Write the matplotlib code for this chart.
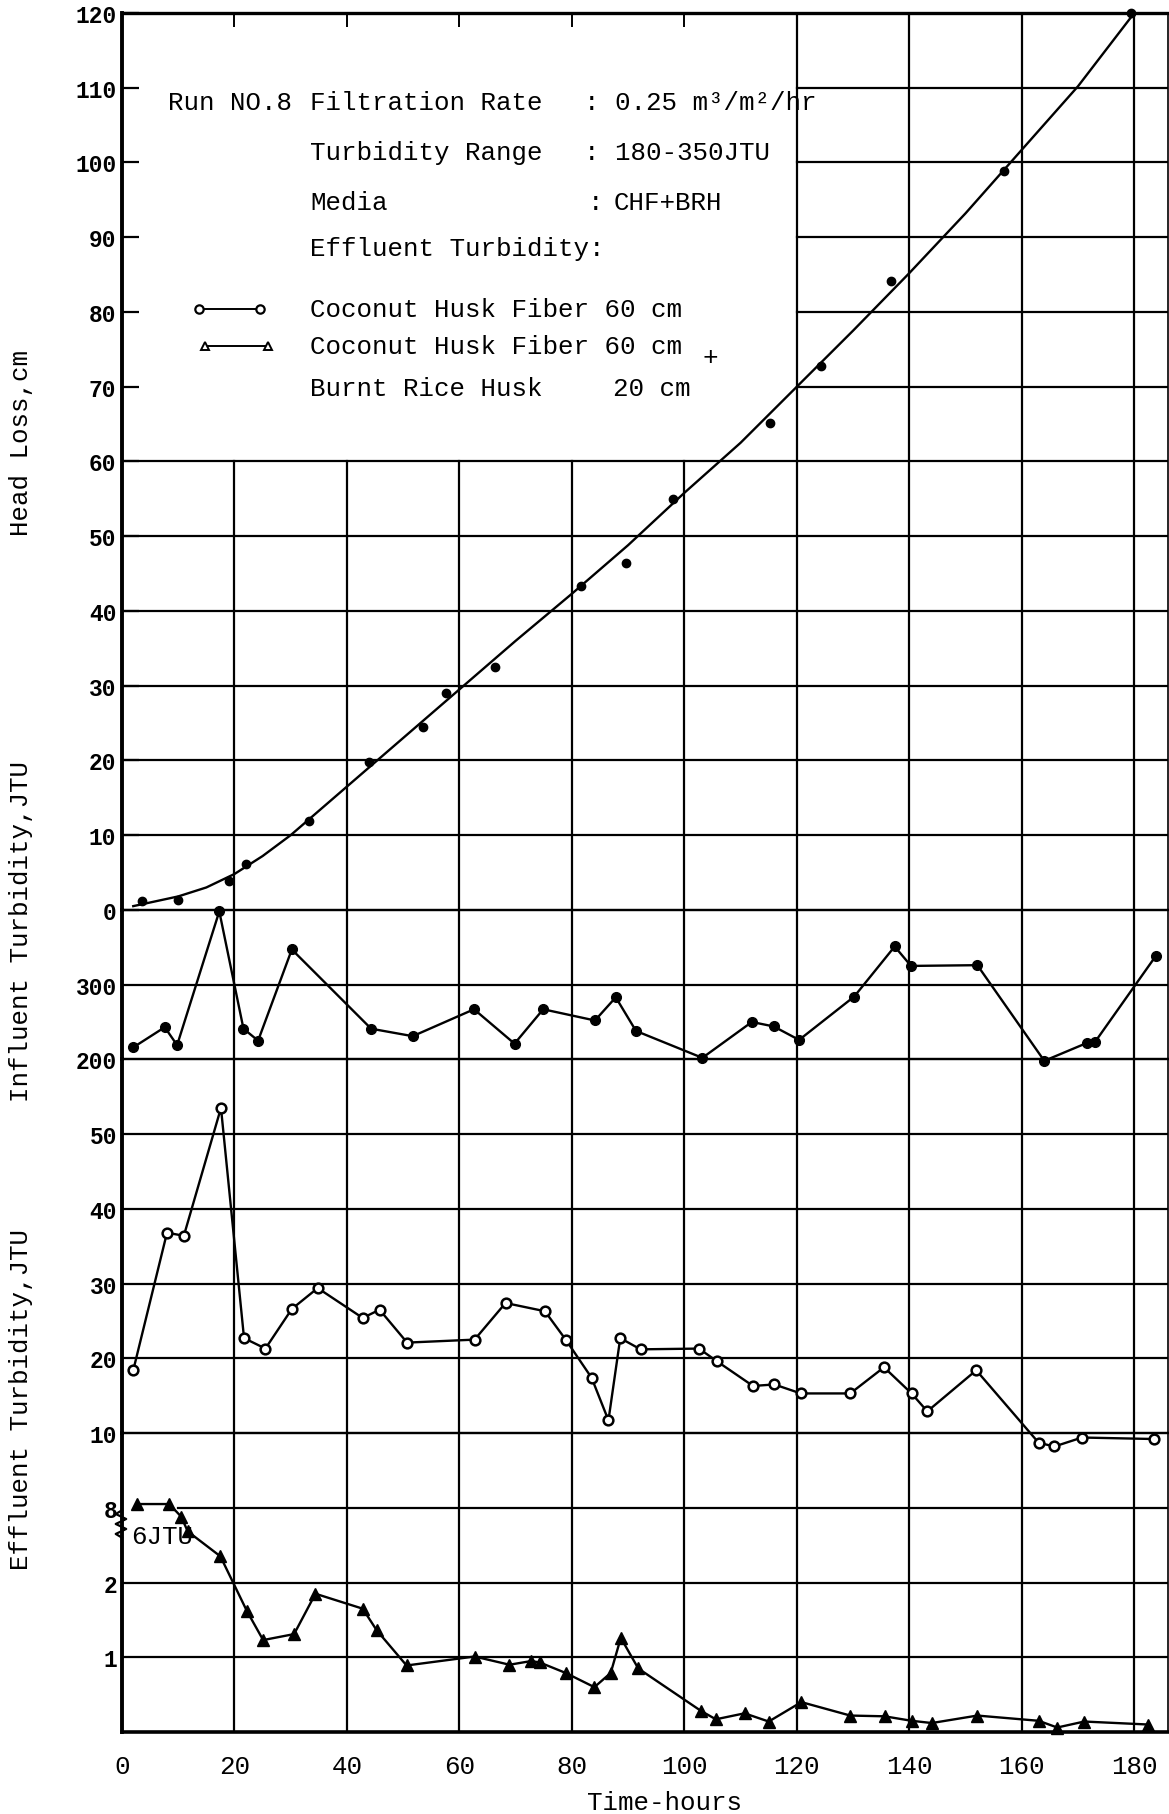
import numpy as np
import matplotlib
matplotlib.use("Agg")
import matplotlib.pyplot as plt
from matplotlib import transforms

# ---- data -------------------------------------------------------------
# head loss readings (hours, cm)
hl_hours = [3.5, 10.0, 19.0, 22.0, 33.3, 43.9, 53.5, 57.6, 66.4, 81.6, 89.7,
            98.0, 115.3, 124.3, 136.7, 156.9, 179.4]
hl_cm = [1.2, 1.3, 3.9, 6.2, 11.9, 19.8, 24.5, 29.0, 32.5, 43.3, 46.4,
         55.0, 65.2, 72.8, 84.2, 98.9, 120.0]
# hand-fitted head loss curve
curve_hours = [2, 10, 15, 20, 25, 30, 40, 50, 60, 70, 80, 90, 100, 110, 120,
               130, 140, 150, 160, 170, 180]
curve_cm = [0.5, 1.8, 3.0, 4.8, 7.2, 10.0, 16.5, 23.0, 29.5, 36.0, 42.3, 48.8,
            55.8, 62.5, 70.0, 77.5, 85.2, 93.2, 101.7, 110.2, 120.0]

# influent turbidity (JTU)
inf_hours = [2.0, 7.6, 9.8, 17.3, 21.6, 24.2, 30.2, 44.3, 51.7, 62.6, 69.8,
             74.9, 84.1, 87.8, 91.4, 103.2, 112.0, 115.9, 120.4, 130.2, 137.4,
             140.3, 152.1, 164.0, 171.6, 173.0, 183.8]
inf_jtu = [216, 243, 219, 398, 241, 225, 347, 241, 231, 267, 221, 267, 252,
           283, 238, 202, 250, 244, 226, 284, 351, 325, 326, 198, 222, 223, 338]

# effluent turbidity, coconut husk fiber 60 cm
chf_hours = [2.0, 8.0, 11.0, 17.6, 21.7, 25.5, 30.2, 34.8, 42.8, 45.8, 50.7,
             62.7, 68.2, 75.2, 78.9, 83.5, 86.5, 88.6, 92.2, 102.6, 105.8,
             112.2, 116.0, 120.7, 129.5, 135.5, 140.4, 143.2, 151.9, 163.0,
             165.8, 170.7, 183.5]
chf_jtu = [18.4, 36.8, 36.4, 53.5, 22.7, 21.3, 26.6, 29.4, 25.4, 26.5, 22.1,
           22.5, 27.4, 26.3, 22.5, 17.4, 11.7, 22.7, 21.2, 21.3, 19.6, 16.3,
           16.5, 15.3, 15.3, 18.8, 15.3, 12.9, 18.4, 8.7, 8.2, 9.4, 9.2]

# effluent turbidity, coconut husk fiber 60 cm + burnt rice husk 20 cm
brh_hours = [2.7, 8.4, 10.5, 11.7, 17.5, 22.2, 25.1, 30.6, 34.4, 42.8, 45.3,
             50.6, 62.7, 68.9, 72.8, 74.3, 78.9, 84.0, 86.9, 88.7, 91.8, 103.0,
             105.6, 110.7, 115.0, 120.8, 129.5, 135.6, 140.4, 144.0, 152.1,
             163.0, 166.3, 171.1, 182.5]
brh_jtu = [8.1, 8.1, 7.3, 6.1, 4.1, 1.62, 1.23, 1.31, 1.85, 1.65, 1.36, 0.89,
           1.01, 0.90, 0.95, 0.93, 0.79, 0.60, 0.79, 1.26, 0.85, 0.28, 0.17,
           0.25, 0.14, 0.40, 0.22, 0.21, 0.15, 0.12, 0.22, 0.15, 0.06, 0.14,
           0.10]

x_ticks = [0, 20, 40, 60, 80, 100, 120, 140, 160, 180]
hl_ticks = [0, 10, 20, 30, 40, 50, 60, 70, 80, 90, 100, 110, 120]
inf_ticks = [200, 300]
eff_ticks = [10, 20, 30, 40, 50]
low_ticks = [1, 2, 8]

# ---- layout -----------------------------------------------------------
W, H = 1169, 1815
fig = plt.figure(figsize=(W / 100, H / 100), dpi=100)
fig.patch.set_facecolor("white")

MONO = "Liberation Mono"
TXT = 18.6
NUM = 16.5
GRID_LW = 1.6
XMAX = 186

x_left, x_right = 122, 1168
top_px = 14
step = (1733 - 14) / 23.0
bounds = [top_px, top_px + 12 * step, top_px + 14 * step,
          top_px + 19 * step, top_px + 23 * step]


def make_axes(i):
    t, b = bounds[i], bounds[i + 1]
    ax = fig.add_axes([x_left / W, 1 - b / H, (x_right - x_left) / W, (b - t) / H])
    ax.set_xlim(0, XMAX)
    ax.set_facecolor("none")
    for s in ax.spines.values():
        s.set_linewidth(GRID_LW)
        s.set_color("black")
    ax.spines["left"].set_linewidth(2.8)
    ax.spines["right"].set_linewidth(1.2)
    ax.tick_params(axis="both", length=0, labelsize=NUM)
    ax.set_xticks(x_ticks)
    ax.tick_params(axis="x", labelbottom=False)
    return ax


ax_hl = make_axes(0)
ax_in = make_axes(1)
ax_ef = make_axes(2)
ax_lo = make_axes(3)

gkw = dict(color="black", lw=GRID_LW, zorder=1)

# head loss panel: the caption box occupies hours 0-120, head loss 60-120
ax_hl.set_ylim(0, 120)
for y in hl_ticks[1:-1]:
    if y <= 60:
        ax_hl.axhline(y, **gkw)
    else:
        ax_hl.axhline(y, xmin=120 / XMAX, xmax=1, **gkw)
for x in x_ticks[1:]:
    if x < 120:
        ax_hl.axvline(x, ymin=0, ymax=60 / 120, **gkw)
    else:
        ax_hl.axvline(x, **gkw)
ax_hl.spines["top"].set_linewidth(2.4)
ax_hl.set_yticks(hl_ticks)
ax_hl.tick_params(axis="y", direction="in", length=12, width=1.6, pad=4)
ax_hl.tick_params(axis="x", top=True, bottom=False, direction="in",
                  length=10, width=1.4, labeltop=False)

# influent panel
ax_in.set_ylim(200, 400)
ax_in.axhline(300, **gkw)
for x in x_ticks[1:]:
    ax_in.axvline(x, **gkw)
ax_in.set_yticks(inf_ticks)

# effluent (CHF) panel
ax_ef.set_ylim(10, 60)
for y in eff_ticks[1:]:
    ax_ef.axhline(y, **gkw)
for x in x_ticks[1:]:
    ax_ef.axvline(x, **gkw)
ax_ef.set_yticks(eff_ticks)


# effluent (CHF+BRH) panel with a broken scale between 2 and 8 JTU
def fwd(v):
    v = np.asarray(v, dtype=float)
    return np.where(v <= 2, v, np.where(v <= 8, 2 + (v - 2) / 6.0, 3 + (v - 8) / 2.0))


def inv(u):
    u = np.asarray(u, dtype=float)
    return np.where(u <= 2, u, np.where(u <= 3, 2 + (u - 2) * 6.0, 8 + (u - 3) * 2.0))


ax_lo.set_yscale("function", functions=(fwd, inv))
ax_lo.set_ylim(0, 10)
ax_lo.axhline(1, **gkw)
ax_lo.axhline(2, **gkw)
ax_lo.axhline(8, xmin=10 / XMAX, xmax=1, **gkw)
for x in x_ticks[1:]:
    ax_lo.axvline(x, **gkw)
ax_lo.set_yticks(low_ticks)
ax_lo.spines["bottom"].set_linewidth(2.6)
ax_lo.set_xticks(x_ticks)
ax_lo.tick_params(axis="x", labelbottom=True, pad=16)

for ax in (ax_hl, ax_in, ax_ef, ax_lo):
    ax.yaxis.set_major_formatter(matplotlib.ticker.FuncFormatter(lambda v, p: f"{v:g}"))
    for lab in ax.get_yticklabels():
        lab.set_fontfamily(MONO)
        lab.set_fontweight("bold")
        lab.set_fontsize(NUM)
for lab in ax_lo.get_xticklabels():
    lab.set_fontfamily(MONO)
    lab.set_fontsize(TXT)

# ---- data marks --------------------------------------------------------
lkw = dict(color="black", lw=1.7, zorder=3, clip_on=False)
ax_hl.plot(curve_hours, curve_cm, **lkw)
ax_hl.plot(hl_hours, hl_cm, ls="none", marker="o", ms=6, color="black",
           zorder=4, clip_on=False)

ax_in.plot(inf_hours, inf_jtu, marker="o", ms=7, **lkw)

ax_ef.plot(chf_hours, chf_jtu, marker="o", ms=7, mfc="white", mec="black",
           mew=1.8, **lkw)

ax_lo.plot(brh_hours, brh_jtu, marker="^", ms=8, **lkw)

# axis break marker on the lower scale
brk = transforms.blended_transform_factory(ax_lo.transAxes, ax_lo.transData)
ax_lo.plot([0, -0.006, 0.004, -0.006, 0.004, -0.006, 0],
           [7.8, 7.5, 7.1, 6.7, 6.3, 5.9, 5.6],
           transform=brk, color="black", lw=1.6, clip_on=False, zorder=5)
fig.text(131 / W, 1 - 1537 / H, "6JTU", family=MONO, fontsize=TXT,
         va="center", ha="left")

# ---- captions ----------------------------------------------------------
def ftxt(x, y, s, **kw):
    kw.setdefault("fontsize", TXT)
    fig.text(x / W, 1 - y / H, s, family=MONO, va="center", ha="left", **kw)


ftxt(168, 103, "Run NO.8")
ftxt(310, 103, "Filtration Rate")
ftxt(584, 103, ": 0.25 m³/m²/hr")
ftxt(310, 153, "Turbidity Range")
ftxt(584, 153, ": 180-350JTU")
ftxt(310, 203, "Media")
ftxt(588, 203, ":")
ftxt(614, 203, "CHF+BRH")
ftxt(310, 249, "Effluent Turbidity:")
ftxt(310, 310, "Coconut Husk Fiber 60 cm")
ftxt(310, 347, "Coconut Husk Fiber 60 cm")
ftxt(703, 358, "+")
ftxt(310, 389, "Burnt Rice Husk")
ftxt(613, 389, "20 cm")

# legend samples
fig.add_artist(plt.Line2D([199 / W, 260 / W], [1 - 310 / H, 1 - 310 / H],
                          color="black", lw=1.4, marker="o", ms=6,
                          mfc="white", mew=1.6))
fig.add_artist(plt.Line2D([205 / W, 268 / W], [1 - 347 / H, 1 - 347 / H],
                          color="black", lw=1.4, marker="^", ms=6,
                          mfc="white", mew=1.4))

# axis titles
fig.text(21 / W, 1 - 443 / H, "Head Loss,cm", family=MONO, fontsize=TXT,
         rotation=90, ha="center", va="center")
fig.text(21 / W, 1 - 932 / H, "Influent Turbidity,JTU", family=MONO,
         fontsize=TXT, rotation=90, ha="center", va="center")
fig.text(21 / W, 1 - 1400 / H, "Effluent Turbidity,JTU", family=MONO,
         fontsize=TXT, rotation=90, ha="center", va="center")
fig.text(665 / W, 1 - 1803 / H, "Time-hours", family=MONO, fontsize=TXT,
         ha="center", va="center")

fig.savefig("out.png", dpi=100, facecolor="white")
